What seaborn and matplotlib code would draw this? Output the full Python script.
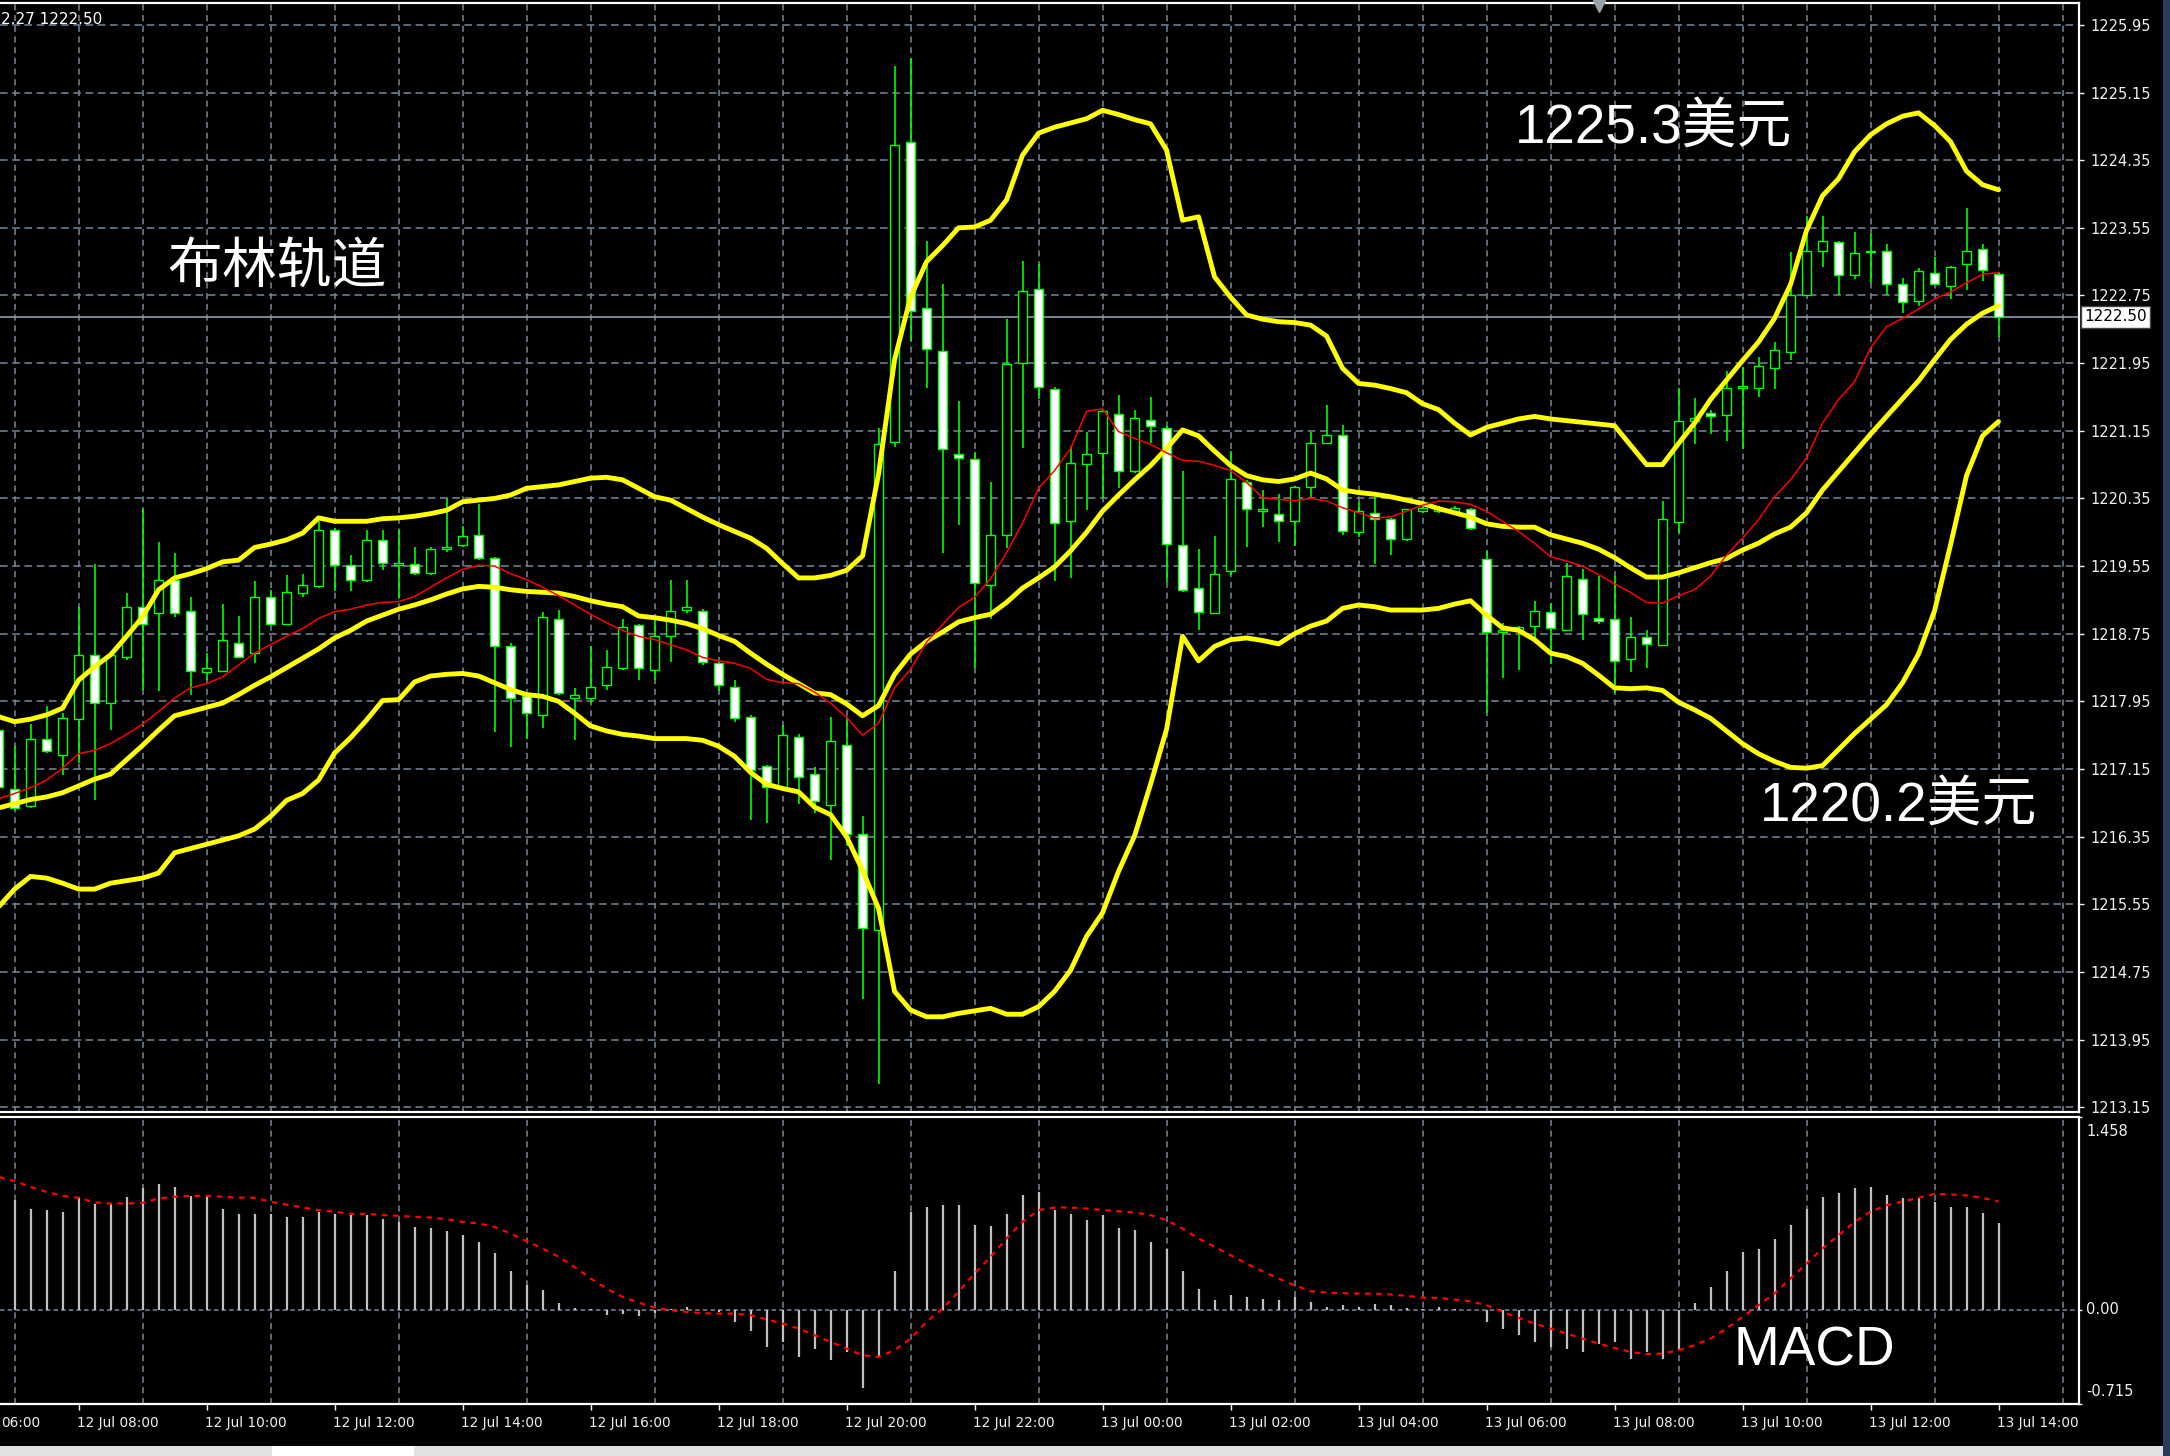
import numpy as np
import pandas as pd
import matplotlib
matplotlib.use('Agg')
import matplotlib.pyplot as plt
import matplotlib.transforms as mtransforms
from matplotlib.patches import Rectangle
from matplotlib.ticker import MultipleLocator
import seaborn as sns

# output size in pixels
W, H = 2170, 1456

# 15 minute bars: bar 0 = 12 Jul 08:00, bar 120 = 13 Jul 14:00
BARS = list(range(-5, 121))

OPEN = [
    1217.61, 1216.91, 1216.71, 1217.51, 1217.32, 1217.74, 1218.50, 1217.93, 1218.48, 1219.07,
    1218.99, 1219.38, 1219.02, 1218.30, 1218.31, 1218.64, 1218.52, 1219.19, 1218.87, 1219.23,
    1219.31, 1219.98, 1219.56, 1219.38, 1219.86, 1219.56, 1219.58, 1219.47, 1219.75, 1219.80,
    1219.92, 1219.64, 1218.60, 1218.01, 1217.79, 1218.93, 1217.99, 1217.99, 1218.14, 1218.34,
    1218.85, 1218.32, 1218.72, 1219.03, 1219.02, 1218.40, 1218.12, 1217.77, 1217.18, 1216.92,
    1217.53, 1217.09, 1216.73, 1217.44, 1216.38, 1215.25, 1221.02, 1224.56, 1222.60, 1222.09,
    1220.88, 1220.82, 1219.33, 1219.92, 1221.95, 1222.83, 1221.64, 1220.08, 1220.76, 1220.89,
    1221.35, 1220.68, 1221.28, 1221.18, 1219.80, 1219.29, 1219.00, 1219.49, 1220.55, 1220.20,
    1220.17, 1220.08, 1220.49, 1221.00, 1221.10, 1219.95, 1220.18, 1220.11, 1219.87, 1220.20,
    1220.20, 1220.20, 1220.22, 1219.63, 1218.77, 1218.80, 1218.84, 1219.01, 1218.80, 1219.40,
    1218.94, 1218.93, 1218.45, 1218.71, 1218.62, 1220.07, 1221.26, 1221.36, 1221.34, 1221.66,
    1221.66, 1221.89, 1222.08, 1222.76, 1223.28, 1223.38, 1222.99, 1223.26, 1223.28, 1222.88,
    1222.69, 1223.02, 1222.86, 1223.12, 1223.30, 1223.00,
]
HIGH = [
    1217.70, 1217.42, 1217.68, 1217.89, 1217.81, 1219.07, 1219.58, 1218.52, 1219.23, 1220.23,
    1219.83, 1219.71, 1219.19, 1218.52, 1219.10, 1218.96, 1219.37, 1219.27, 1219.45, 1219.46,
    1220.08, 1220.00, 1219.68, 1219.98, 1219.98, 1219.98, 1219.78, 1219.78, 1220.35, 1220.02,
    1220.29, 1219.66, 1218.64, 1218.05, 1219.01, 1219.03, 1218.11, 1218.60, 1218.56, 1218.93,
    1218.87, 1218.93, 1219.39, 1219.39, 1219.04, 1218.42, 1218.20, 1217.79, 1217.20, 1217.67,
    1217.57, 1217.17, 1217.76, 1217.76, 1216.59, 1221.18, 1225.46, 1225.56, 1223.40, 1222.88,
    1221.50, 1220.90, 1220.54, 1222.47, 1223.16, 1223.12, 1221.67, 1220.97, 1221.14, 1221.40,
    1221.57, 1221.39, 1221.55, 1221.21, 1220.68, 1219.75, 1219.91, 1220.91, 1220.57, 1220.45,
    1220.40, 1220.50, 1221.13, 1221.46, 1221.22, 1220.31, 1220.37, 1220.12, 1220.23, 1220.28,
    1220.26, 1220.26, 1220.24, 1219.73, 1218.88, 1218.84, 1219.14, 1219.11, 1219.59, 1219.51,
    1219.43, 1219.43, 1218.95, 1218.80, 1220.32, 1221.66, 1221.54, 1221.40, 1221.86, 1221.91,
    1222.02, 1222.20, 1223.27, 1223.69, 1223.69, 1223.40, 1223.50, 1223.48, 1223.36, 1222.96,
    1223.08, 1223.20, 1223.10, 1223.79, 1223.36, 1223.02,
]
LOW = [
    1216.85, 1216.67, 1216.69, 1217.34, 1217.08, 1217.22, 1216.78, 1217.61, 1218.44, 1218.09,
    1218.07, 1218.95, 1218.03, 1218.20, 1218.30, 1218.46, 1218.40, 1218.85, 1218.85, 1219.19,
    1219.29, 1219.25, 1219.25, 1219.36, 1219.50, 1219.17, 1219.44, 1219.44, 1219.72, 1219.78,
    1219.62, 1217.59, 1217.41, 1217.51, 1217.63, 1218.02, 1217.49, 1217.93, 1218.09, 1218.32,
    1218.20, 1218.20, 1218.42, 1218.99, 1218.38, 1218.07, 1217.71, 1216.55, 1216.51, 1216.90,
    1216.74, 1216.63, 1216.08, 1216.24, 1214.43, 1213.42, 1220.96, 1222.21, 1221.66, 1219.70,
    1220.03, 1218.34, 1218.92, 1219.76, 1220.95, 1221.53, 1219.37, 1219.41, 1220.21, 1220.36,
    1220.47, 1220.65, 1221.01, 1219.36, 1219.24, 1218.80, 1218.98, 1219.44, 1219.77, 1220.01,
    1219.83, 1219.79, 1220.37, 1220.99, 1219.92, 1219.89, 1219.57, 1219.68, 1219.85, 1220.18,
    1220.18, 1220.18, 1219.98, 1217.81, 1218.23, 1218.32, 1218.66, 1218.39, 1218.78, 1218.68,
    1218.86, 1218.05, 1218.30, 1218.35, 1218.60, 1219.94, 1220.99, 1221.11, 1221.03, 1220.93,
    1221.55, 1221.65, 1221.99, 1222.75, 1223.09, 1222.75, 1222.95, 1222.90, 1222.76, 1222.54,
    1222.62, 1222.87, 1222.71, 1222.81, 1222.92, 1222.26,
]
CLOSE = [
    1216.94, 1216.69, 1217.51, 1217.36, 1217.75, 1218.50, 1217.93, 1218.50, 1219.07, 1218.87,
    1219.38, 1218.99, 1218.31, 1218.34, 1218.67, 1218.48, 1219.19, 1218.87, 1219.24, 1219.33,
    1219.98, 1219.56, 1219.38, 1219.86, 1219.59, 1219.59, 1219.47, 1219.75, 1219.78, 1219.90,
    1219.64, 1218.60, 1217.99, 1217.81, 1218.95, 1218.05, 1218.03, 1218.12, 1218.36, 1218.83,
    1218.34, 1218.72, 1219.02, 1219.07, 1218.42, 1218.14, 1217.75, 1217.14, 1216.94, 1217.55,
    1217.06, 1216.77, 1217.48, 1216.38, 1215.27, 1220.99, 1224.53, 1222.57, 1222.12, 1220.94,
    1220.83, 1219.35, 1219.92, 1221.94, 1222.80, 1221.67, 1220.06, 1220.77, 1220.88, 1221.38,
    1220.68, 1221.30, 1221.21, 1219.81, 1219.27, 1219.01, 1219.46, 1220.58, 1220.22, 1220.23,
    1220.08, 1220.48, 1221.00, 1221.10, 1219.97, 1220.20, 1220.11, 1219.87, 1220.22, 1220.24,
    1220.24, 1220.24, 1220.00, 1218.77, 1218.80, 1218.83, 1219.02, 1218.82, 1219.43, 1218.98,
    1218.90, 1218.43, 1218.71, 1218.63, 1220.11, 1221.26, 1221.30, 1221.32, 1221.66, 1221.68,
    1221.92, 1222.10, 1222.76, 1223.28, 1223.40, 1222.99, 1223.25, 1223.28, 1222.88, 1222.67,
    1223.04, 1222.88, 1223.09, 1223.28, 1223.05, 1222.50,
]

# Bollinger channel (yellow) and moving average (red)
UPPER_BAND = [
    1217.77, 1217.71, 1217.74, 1217.79, 1217.87, 1218.20, 1218.36, 1218.50, 1218.72, 1218.95,
    1219.27, 1219.41, 1219.46, 1219.52, 1219.60, 1219.62, 1219.77, 1219.81, 1219.86, 1219.94,
    1220.12, 1220.08, 1220.08, 1220.08, 1220.11, 1220.12, 1220.14, 1220.17, 1220.21, 1220.31,
    1220.33, 1220.35, 1220.39, 1220.47, 1220.49, 1220.51, 1220.55, 1220.59, 1220.60, 1220.57,
    1220.47, 1220.37, 1220.33, 1220.23, 1220.13, 1220.04, 1219.96, 1219.88, 1219.76, 1219.58,
    1219.41, 1219.41, 1219.44, 1219.50, 1219.67, 1220.64, 1221.99, 1222.73, 1223.15, 1223.34,
    1223.55, 1223.56, 1223.64, 1223.88, 1224.41, 1224.67, 1224.74, 1224.79, 1224.84, 1224.94,
    1224.89, 1224.83, 1224.78, 1224.47, 1223.64, 1223.68, 1222.97, 1222.73, 1222.52, 1222.47,
    1222.44, 1222.43, 1222.40, 1222.27, 1221.89, 1221.71, 1221.69, 1221.65, 1221.60, 1221.47,
    1221.40, 1221.24, 1221.10, 1221.19, 1221.24, 1221.29, 1221.32, 1221.29, 1221.27, 1221.25,
    1221.23, 1221.21, 1220.98, 1220.75, 1220.75, 1221.00, 1221.24, 1221.52, 1221.75, 1221.98,
    1222.20, 1222.48, 1222.88, 1223.52, 1223.93, 1224.13, 1224.45, 1224.65, 1224.78, 1224.87,
    1224.91, 1224.76, 1224.57, 1224.22, 1224.06, 1224.00,
]
MID_BAND = [
    1216.69, 1216.74, 1216.79, 1216.82, 1216.87, 1216.95, 1217.03, 1217.09, 1217.26, 1217.43,
    1217.61, 1217.78, 1217.83, 1217.88, 1217.93, 1218.03, 1218.14, 1218.24, 1218.35, 1218.46,
    1218.57, 1218.70, 1218.79, 1218.90, 1218.97, 1219.04, 1219.09, 1219.15, 1219.22, 1219.28,
    1219.31, 1219.30, 1219.27, 1219.25, 1219.24, 1219.23, 1219.19, 1219.14, 1219.10, 1219.07,
    1218.96, 1218.94, 1218.91, 1218.87, 1218.81, 1218.73, 1218.66, 1218.52, 1218.39, 1218.27,
    1218.16, 1218.05, 1218.03, 1217.92, 1217.78, 1217.90, 1218.27, 1218.51, 1218.66, 1218.77,
    1218.89, 1218.94, 1218.98, 1219.12, 1219.29, 1219.41, 1219.54, 1219.73, 1219.95, 1220.20,
    1220.39, 1220.57, 1220.74, 1220.94, 1221.16, 1221.09, 1220.91, 1220.74, 1220.62, 1220.57,
    1220.55, 1220.58, 1220.65, 1220.58, 1220.45, 1220.42, 1220.40, 1220.37, 1220.33, 1220.29,
    1220.23, 1220.18, 1220.13, 1220.05, 1220.02, 1220.01, 1220.01, 1219.92, 1219.87, 1219.82,
    1219.75, 1219.65, 1219.53, 1219.42, 1219.42, 1219.47, 1219.53, 1219.59, 1219.64, 1219.74,
    1219.82, 1219.93, 1220.01, 1220.18, 1220.45, 1220.67, 1220.89, 1221.11, 1221.32, 1221.53,
    1221.74, 1221.99, 1222.23, 1222.41, 1222.54, 1222.63,
]
LOWER_BAND = [
    1215.52, 1215.73, 1215.88, 1215.86, 1215.80, 1215.73, 1215.73, 1215.80, 1215.83, 1215.86,
    1215.92, 1216.16, 1216.21, 1216.26, 1216.31, 1216.36, 1216.44, 1216.59, 1216.78, 1216.86,
    1217.02, 1217.34, 1217.52, 1217.73, 1217.96, 1217.97, 1218.18, 1218.25, 1218.27, 1218.28,
    1218.25, 1218.17, 1218.09, 1218.03, 1218.01, 1217.95, 1217.81, 1217.66, 1217.60, 1217.56,
    1217.54, 1217.51, 1217.51, 1217.51, 1217.49, 1217.42, 1217.30, 1217.11, 1216.97, 1216.92,
    1216.88, 1216.70, 1216.61, 1216.35, 1215.95, 1215.50, 1214.52, 1214.30, 1214.22, 1214.22,
    1214.26, 1214.29, 1214.32, 1214.25, 1214.25, 1214.34, 1214.52, 1214.77, 1215.17, 1215.45,
    1215.94, 1216.36, 1216.97, 1217.62, 1218.72, 1218.43, 1218.60, 1218.68, 1218.70, 1218.67,
    1218.63, 1218.75, 1218.84, 1218.90, 1219.05, 1219.09, 1219.07, 1219.03, 1219.03, 1219.03,
    1219.05, 1219.10, 1219.14, 1218.97, 1218.82, 1218.79, 1218.68, 1218.52, 1218.48, 1218.40,
    1218.26, 1218.11, 1218.10, 1218.11, 1218.08, 1217.94, 1217.85, 1217.75, 1217.60, 1217.45,
    1217.33, 1217.24, 1217.17, 1217.16, 1217.19, 1217.38, 1217.57, 1217.74, 1217.91, 1218.17,
    1218.51, 1219.02, 1219.80, 1220.62, 1221.09, 1221.26,
]
MA_RED = [
    1216.80, 1216.86, 1216.93, 1217.02, 1217.16, 1217.33, 1217.37, 1217.45, 1217.56, 1217.68,
    1217.83, 1217.99, 1218.11, 1218.16, 1218.24, 1218.38, 1218.52, 1218.62, 1218.72, 1218.81,
    1218.93, 1219.01, 1219.04, 1219.09, 1219.12, 1219.13, 1219.19, 1219.30, 1219.41, 1219.51,
    1219.56, 1219.55, 1219.46, 1219.39, 1219.30, 1219.20, 1219.09, 1218.98, 1218.88, 1218.79,
    1218.72, 1218.68, 1218.62, 1218.56, 1218.47, 1218.43, 1218.40, 1218.34, 1218.21, 1218.17,
    1218.16, 1218.06, 1217.93, 1217.76, 1217.55, 1217.69, 1218.11, 1218.33, 1218.65, 1218.86,
    1219.06, 1219.18, 1219.40, 1219.71, 1220.06, 1220.47, 1220.68, 1220.94, 1221.38, 1221.41,
    1221.14, 1221.06, 1220.99, 1220.89, 1220.80, 1220.79, 1220.74, 1220.68, 1220.54, 1220.36,
    1220.34, 1220.32, 1220.35, 1220.32, 1220.24, 1220.18, 1220.12, 1220.13, 1220.20, 1220.27,
    1220.32, 1220.31, 1220.28, 1220.20, 1220.08, 1219.96, 1219.82, 1219.66, 1219.61, 1219.55,
    1219.45, 1219.34, 1219.24, 1219.12, 1219.11, 1219.20, 1219.27, 1219.43, 1219.68, 1219.88,
    1220.10, 1220.37, 1220.57, 1220.83, 1221.24, 1221.52, 1221.73, 1222.13, 1222.38, 1222.48,
    1222.59, 1222.71, 1222.79, 1222.90, 1223.00, 1223.02,
]

# MACD panel
MACD_HIST = [
    0.850, 0.828, 0.765, 0.753, 0.740, 0.854, 0.803, 0.803, 0.854, 0.917,
    0.947, 0.929, 0.861, 0.854, 0.765, 0.720, 0.720, 0.720, 0.702, 0.702,
    0.740, 0.727, 0.715, 0.715, 0.689, 0.664, 0.626, 0.614, 0.593, 0.563,
    0.513, 0.432, 0.293, 0.184, 0.146, 0.053, 0.013, 0.008, -0.043, -0.030,
    -0.048, -0.023, 0.008, 0.020, -0.005, -0.018, -0.093, -0.164, -0.283, -0.245,
    -0.359, -0.295, -0.384, -0.321, -0.593, -0.359, 0.293, 0.740, 0.778, 0.790,
    0.795, 0.639, 0.634, 0.720, 0.871, 0.891, 0.753, 0.720, 0.677, 0.715,
    0.614, 0.601, 0.513, 0.462, 0.293, 0.159, 0.071, 0.109, 0.096, 0.083,
    0.071, 0.096, 0.058, 0.020, 0.033, 0.020, 0.045, 0.033, 0.013, 0.008,
    0.020, 0.008, -0.005, -0.093, -0.144, -0.194, -0.245, -0.283, -0.295, -0.321,
    -0.258, -0.245, -0.371, -0.321, -0.371, -0.295, 0.053, 0.172, 0.293, 0.437,
    0.462, 0.538, 0.639, 0.765, 0.854, 0.886, 0.917, 0.929, 0.870, 0.846,
    0.843, 0.813, 0.775, 0.775, 0.730, 0.654,
]
MACD_SIGNAL = [
    1.005, 0.972, 0.929, 0.891, 0.861, 0.846, 0.811, 0.803, 0.803, 0.808,
    0.841, 0.854, 0.861, 0.861, 0.854, 0.848, 0.846, 0.816, 0.795, 0.773,
    0.753, 0.740, 0.725, 0.725, 0.715, 0.710, 0.702, 0.697, 0.684, 0.664,
    0.652, 0.626, 0.576, 0.518, 0.462, 0.399, 0.323, 0.235, 0.159, 0.096,
    0.053, 0.015, -0.005, -0.018, -0.028, -0.030, -0.030, -0.043, -0.073, -0.106,
    -0.144, -0.194, -0.245, -0.295, -0.346, -0.359, -0.308, -0.220, -0.093, 0.008,
    0.134, 0.273, 0.399, 0.538, 0.664, 0.753, 0.773, 0.773, 0.765, 0.753,
    0.745, 0.735, 0.715, 0.677, 0.614, 0.538, 0.475, 0.412, 0.348, 0.290,
    0.235, 0.184, 0.139, 0.129, 0.124, 0.121, 0.121, 0.114, 0.104, 0.091,
    0.088, 0.076, 0.063, 0.033, -0.018, -0.063, -0.106, -0.144, -0.182, -0.220,
    -0.258, -0.290, -0.321, -0.338, -0.333, -0.308, -0.270, -0.220, -0.144, -0.056,
    0.033, 0.121, 0.235, 0.348, 0.462, 0.563, 0.664, 0.740, 0.790, 0.818,
    0.846, 0.876, 0.871, 0.864, 0.846, 0.818,
]

# axis ticks and labels
PRICE_TICKS = [1225.95, 1225.15, 1224.35, 1223.55, 1222.75, 1221.95, 1221.15, 1220.35, 1219.55,
               1218.75, 1217.95, 1217.15, 1216.35, 1215.55, 1214.75, 1213.95, 1213.15]
MACD_TICKS = [1.458, 0.0, -0.715]
MACD_TICK_LABELS = ['1.458', '0.00', '-0.715']
TIME_TICK_BARS = [0, 8, 16, 24, 32, 40, 48, 56, 64, 72, 80, 88, 96, 104, 112, 120]
TIME_LABELS = ['12 Jul 08:00', '12 Jul 10:00', '12 Jul 12:00', '12 Jul 14:00',
               '12 Jul 16:00', '12 Jul 18:00', '12 Jul 20:00', '12 Jul 22:00', '13 Jul 00:00',
               '13 Jul 02:00', '13 Jul 04:00', '13 Jul 06:00', '13 Jul 08:00', '13 Jul 10:00',
               '13 Jul 12:00', '13 Jul 14:00']
EDGE_TIME_LABEL = '06:00'          # tail of "12 Jul 06:00", cut by the left edge
INFO_TEXT = '2.27 1222.50'          # tail of the OHLC line, cut by the left edge
LAST_PRICE = 1222.50
SHIFT_BAR = 95

GREEN = '#00FF00'
YELLOW = '#FFFF00'
GRID = '#778899'

df = pd.DataFrame({'bar': BARS, 'open': OPEN, 'high': HIGH, 'low': LOW, 'close': CLOSE,
                   'upper': UPPER_BAND, 'mid': MID_BAND, 'lower': LOWER_BAND, 'ma': MA_RED,
                   'hist': MACD_HIST, 'signal': MACD_SIGNAL})

sns.set_theme(style='dark', rc={'axes.facecolor': 'black', 'figure.facecolor': 'black',
                                'axes.edgecolor': 'white', 'text.color': 'white',
                                'xtick.color': 'white', 'ytick.color': 'white'})
plt.rcParams['font.family'] = ['DejaVu Sans']


def px_box(x0, y0, x1, y1):
    # pixel box (top-left origin) -> figure fraction rect
    return [x0 / W, 1 - y1 / H, (x1 - x0) / W, (y1 - y0) / H]


fig = plt.figure(figsize=(W / 100, H / 100), dpi=100)
fig.patch.set_facecolor('black')
ax = fig.add_axes(px_box(0, 3, 2079, 1112))
ax_macd = fig.add_axes(px_box(0, 1117, 2079, 1404))

XLIM = (-4.9125, 125.03)

# ---- price panel ----
x = df['bar'].to_numpy()
o = df['open'].to_numpy()
c = df['close'].to_numpy()
bull = c >= o
ax.vlines(x, df['low'], df['high'], color=GREEN, linewidth=1.2, zorder=3)
ax.bar(x, np.maximum(np.abs(c - o), 0.012), bottom=np.minimum(o, c), width=0.55,
       color=np.where(bull, 'black', 'white'), edgecolor=GREEN, linewidth=1.0, zorder=4)

for col in ['upper', 'mid', 'lower']:
    sns.lineplot(data=df, x='bar', y=col, ax=ax, color=YELLOW, linewidth=3.5, zorder=6)
sns.lineplot(data=df, x='bar', y='ma', ax=ax, color='#FF0000', linewidth=1.1, zorder=7)

ax.axhline(LAST_PRICE, color='#8C9AAA', linewidth=1.2, zorder=2)

ax.set_xlim(*XLIM)
ax.set_ylim(1213.094, 1226.209)
ax.set_yticks(PRICE_TICKS)
ax.set_yticklabels([f'{p:.2f}' for p in PRICE_TICKS])
ax.yaxis.tick_right()
ax.tick_params(axis='y', which='major', right=True, left=False, colors='#F0F0F0',
               labelsize=10.5, length=3.5, width=1, pad=5)
ax.set_xticks([])
ax.xaxis.set_minor_locator(MultipleLocator(4))
ax.tick_params(axis='x', which='both', bottom=False, length=0)
ax.grid(which='major', axis='y', color=GRID, linestyle=(0, (5, 3)), linewidth=1.1, zorder=1)
ax.grid(which='minor', axis='x', color=GRID, linestyle=(0, (4, 3)), linewidth=1.1, zorder=1)
ax.set_xlabel('')
ax.set_ylabel('')

# current price box on the scale
price_tr = mtransforms.blended_transform_factory(ax.transAxes, ax.transData)
ax.text(1.0025, LAST_PRICE, f'{LAST_PRICE:.2f}', transform=price_tr, ha='left', va='center',
        color='black', fontsize=11, zorder=10,
        bbox=dict(facecolor='white', edgecolor='#444444', pad=2.5))

# shift marker at the top
shift_tr = mtransforms.blended_transform_factory(ax.transData, ax.transAxes)
ax.plot([SHIFT_BAR], [0.997], marker='v', markersize=8, color='#9AA4B0',
        transform=shift_tr, clip_on=False, zorder=10)

# ---- MACD panel ----
ax_macd.vlines(x, 0, df['hist'], colors='#C0C0C0', linewidth=1.6, zorder=3)
sns.lineplot(data=df, x='bar', y='signal', ax=ax_macd, color='#FF0000', linewidth=1.6,
             linestyle=(0, (2.5, 2.5)), zorder=5)
ax_macd.axhline(0, color=GRID, linestyle=(0, (3, 2)), linewidth=1.1, zorder=1)
ax_macd.set_xlim(*XLIM)
ax_macd.set_ylim(-0.715, 1.458)
ax_macd.set_yticks(MACD_TICKS)
ax_macd.set_yticklabels([])
ax_macd.yaxis.tick_right()
ax_macd.tick_params(axis='y', right=True, left=False, colors='#F0F0F0', length=2, width=1)

# scale labels: top one sits below the edge, bottom one above it
macd_lab_tr = mtransforms.blended_transform_factory(ax_macd.transAxes, ax_macd.transAxes)
for val, lab in zip(MACD_TICKS, MACD_TICK_LABELS):
    yy = (val + 0.715) / (1.458 + 0.715)
    if val == MACD_TICKS[0]:
        yy = 0.948
    elif val == MACD_TICKS[-1]:
        yy = 0.045
    ax_macd.text(1.0034, yy, lab, transform=macd_lab_tr, ha='left', va='center',
                 color='#F0F0F0', fontsize=10.5, clip_on=False)

ax_macd.set_xticks(TIME_TICK_BARS)
ax_macd.set_xticklabels([])
ax_macd.xaxis.set_minor_locator(MultipleLocator(4))
ax_macd.tick_params(axis='x', which='major', bottom=True, colors='white', length=4,
                    width=1, direction='out')
ax_macd.tick_params(axis='x', which='minor', bottom=False, length=0)
ax_macd.grid(which='minor', axis='x', color=GRID, linestyle=(0, (4, 3)), linewidth=1.1, zorder=1)
ax_macd.grid(which='major', axis='y', visible=False)
ax_macd.set_xlabel('')
ax_macd.set_ylabel('')

# time labels, left aligned on their tick
time_tr = mtransforms.blended_transform_factory(ax_macd.transData, ax_macd.transAxes)
for b, lab in zip(TIME_TICK_BARS, TIME_LABELS):
    ax_macd.text(b - 0.1, -0.066, lab, transform=time_tr, ha='left', va='center',
                 color='#F0F0F0', fontsize=9.8, clip_on=False)
fig.text(1 / W, 1 - 1423 / H, EDGE_TIME_LABEL, ha='left', va='center',
         color='#F0F0F0', fontsize=9.8)

for a in (ax, ax_macd):
    a.set_facecolor('black')
    a.spines['left'].set_visible(False)
    for s in ('top', 'right', 'bottom'):
        a.spines[s].set_color('white')
        a.spines[s].set_linewidth(1.6)

# ---- annotations ----
fig.text(1 / W, 1 - 19 / H, INFO_TEXT, ha='left', va='center', color='white', fontsize=11)
fig.text(167 / W, 1 - 268 / H, '布林轨道', ha='left', va='center', color='white',
         fontsize=39.5, family=['Noto Sans CJK SC', 'DejaVu Sans'])
fig.text(1515 / W, 1 - 129 / H, '1225.3美元', ha='left', va='center', color='white',
         fontsize=39.5, family=['Liberation Sans', 'Noto Sans CJK SC'])
fig.text(1760 / W, 1 - 807 / H, '1220.2美元', ha='left', va='center', color='white',
         fontsize=39.5, family=['Liberation Sans', 'Noto Sans CJK SC'])
fig.text(1733 / W, 1 - 1352 / H, 'MACD', ha='left', va='center', color='white',
         fontsize=39.5, family=['Liberation Sans', 'DejaVu Sans'])

# window chrome: tab strip at the bottom and frame on the right
fig.add_artist(Rectangle((0, 0), 1, 10 / H, transform=fig.transFigure,
                         facecolor='#E2E2E2', edgecolor='none'))
fig.add_artist(Rectangle((272 / W, 0), 142 / W, 10 / H, transform=fig.transFigure,
                         facecolor='white', edgecolor='none'))
fig.add_artist(Rectangle((2163 / W, 0), 7 / W, 1, transform=fig.transFigure,
                         facecolor='#2A3B5E', edgecolor='none'))

fig.savefig('out.png', dpi=100, facecolor='black')
